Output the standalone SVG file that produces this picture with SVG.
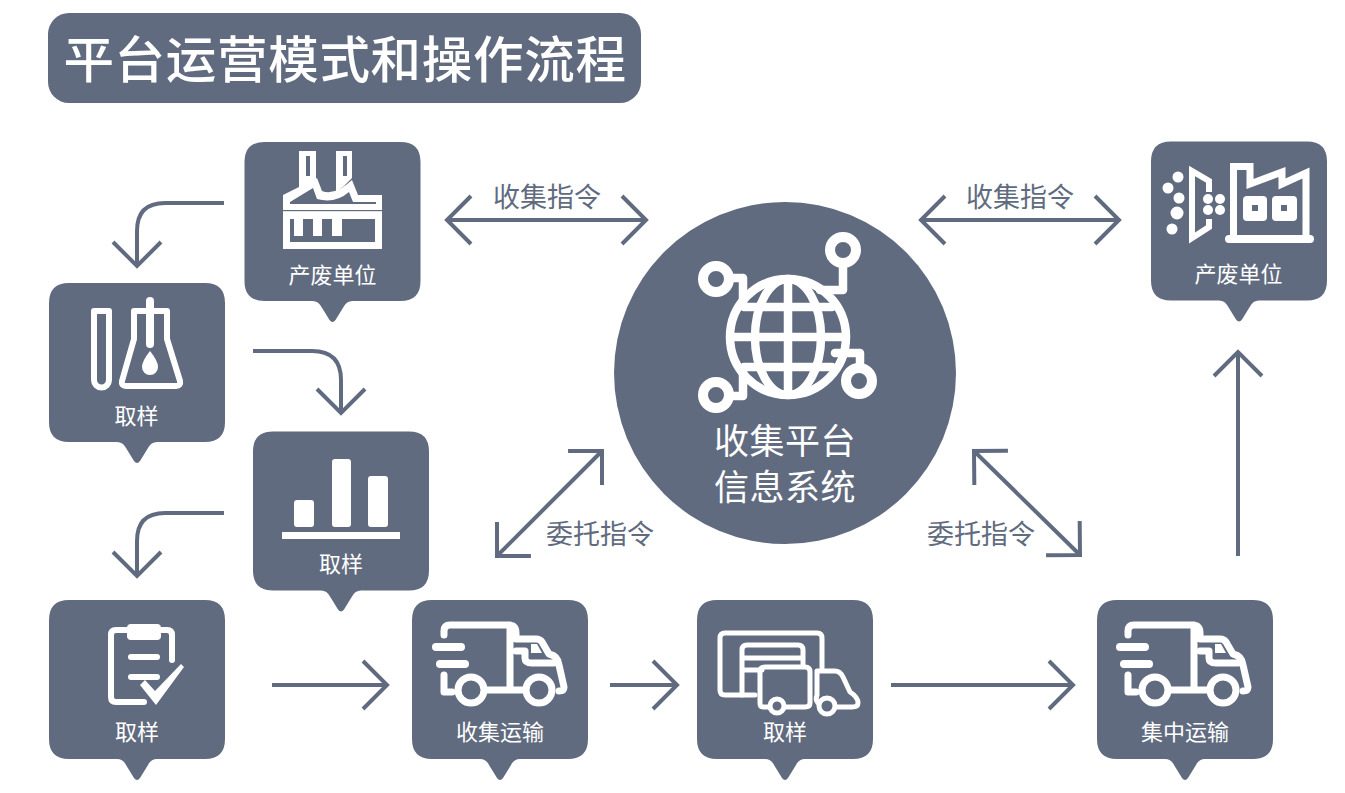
<svg xmlns="http://www.w3.org/2000/svg" width="1345" height="793" viewBox="0 0 1345 793">
<style>
text{font-family:"Noto Sans CJK SC","Noto Sans",sans-serif}
.bg{fill:#616b80}
.lb{fill:#fff;font-size:22px;text-anchor:middle}
.cl{fill:#616b80;font-size:27px;text-anchor:middle}
.cc{fill:#fff;font-size:35px;text-anchor:middle}
.i{fill:none;stroke:#fff;stroke-width:6;stroke-linejoin:round;stroke-linecap:round}
.m{fill:none;stroke:#fff;stroke-width:6;stroke-linejoin:miter;stroke-linecap:butt}
.f{fill:#fff}
.d{fill:#616b80}
.c{fill:none;stroke:#616b80;stroke-width:4}
</style>
<defs>
<marker id="ah" markerUnits="userSpaceOnUse" markerWidth="32" markerHeight="56" refX="28" refY="28" orient="auto-start-reverse" viewBox="0 0 32 56"><path d="M4 4L28 28L4 52" fill="none" stroke="#616b80" stroke-width="4"/></marker>
<path id="bubble" d="M20 0H156Q176 0 176 20V139Q176 159 156 159H108Q102 159 99 165L91 178Q88 182 85 178L77 165Q74 159 68 159H20Q0 159 0 139V20Q0 0 20 0Z"/>
<g id="truck">
<path class="i" style="stroke-width:7" d="M0 10V6Q0 0 6 0H64Q72 0 72 8V14H92Q96 14 98 17L105 29Q114 31 115 40L120 62Q120 66 115 66M66 0V65H42M80 65H66M0 50V67H8"/>
<path class="i" style="stroke-width:7" d="M72 26H81V33Q81 38 88 38H110"/>
<path class="f" d="M87 19H93L98 28H87Z"/>
<rect class="f" x="-12" y="18" width="33" height="8" rx="4"/>
<rect class="f" x="-8" y="35" width="33" height="8" rx="4"/>
<circle cx="27" cy="65" r="13" fill="#616b80" stroke="#fff" stroke-width="7"/>
<circle cx="95" cy="65" r="13" fill="#616b80" stroke="#fff" stroke-width="7"/>
</g>
</defs>
<rect width="1345" height="793" fill="#fff"/>

<g id="title">
<rect class="bg" x="48" y="13" width="593" height="90" rx="21"/>
<text x="345" y="78" fill="#fff" font-size="50.500" font-weight="500" letter-spacing="0.7" text-anchor="middle">平台运营模式和操作流程</text>
</g>

<g id="connectors">
<path class="c" marker-end="url(#ah)" d="M224 203H165Q137 203 137 231V266"/>
<path class="c" marker-end="url(#ah)" d="M253 351H312Q341 351 341 380V413"/>
<path class="c" marker-end="url(#ah)" d="M224 513H165Q137 513 137 541V576"/>
<path class="c" marker-end="url(#ah)" d="M272 685H387"/>
<path class="c" marker-end="url(#ah)" d="M610 685H677"/>
<path class="c" marker-end="url(#ah)" d="M891 685H1073"/>
<path class="c" marker-end="url(#ah)" d="M1238 556V352"/>
<path class="c" marker-start="url(#ah)" marker-end="url(#ah)" d="M447 220H646"/>
<path class="c" marker-start="url(#ah)" marker-end="url(#ah)" d="M921 220H1119"/>
<path class="c" marker-start="url(#ah)" marker-end="url(#ah)" d="M497 556L602 451"/>
<path class="c" marker-start="url(#ah)" marker-end="url(#ah)" d="M974 451L1080 555"/>
<text class="cl" x="547" y="207">收集指令</text>
<text class="cl" x="1020" y="207">收集指令</text>
<text class="cl" x="600" y="544">委托指令</text>
<text class="cl" x="981" y="544">委托指令</text>
</g>

<g id="node-platform">
<circle class="bg" cx="785" cy="373" r="171"/>
<g class="i" style="stroke-width:8.500">
<circle cx="788" cy="337" r="58"/>
<ellipse cx="788" cy="337" rx="33" ry="58"/>
<path d="M788 280V394M731 337H845M744 307H832M744 367H832"/>
<path d="M843 268V290H820M734 278H743V303M734 396H743V371M860 363V353H835"/>
</g>
<g fill="none" stroke="#fff" stroke-width="10">
<circle cx="843" cy="250" r="13"/>
<circle cx="716" cy="279" r="13"/>
<circle cx="716" cy="395" r="13"/>
<circle cx="859" cy="381" r="13"/>
</g>
<text class="cc" x="785" y="454" letter-spacing="0.5">收集平台</text>
<text class="cc" x="785" y="500" letter-spacing="0.5">信息系统</text>
</g>

<g id="node-source1">
<use href="#bubble" class="bg" x="244.500" y="142"/>
<path class="f" d="M299 151H316V180L299 189ZM336 151H352V178L344 186L336 192Z"/>
<rect class="d" x="306" y="156" width="4" height="20"/>
<rect class="d" x="343" y="156" width="4" height="20"/>
<path class="f" d="M283 219V195L317 178L322 191Q335 196 352 180L358 195H382V219Z"/>
<path class="d" d="M290 202L313 188L317 199Q335 204 349 192L353 202H376V204H290Z"/>
<rect class="d" x="283" y="210" width="99" height="1.200"/>
<path class="m" style="stroke-width:7" d="M286.500 216V245.500H378.500V216"/>
<rect class="f" x="294" y="216" width="9" height="20"/>
<rect class="f" x="313" y="216" width="9" height="20"/>
<rect class="f" x="332" y="216" width="10" height="20"/>
<text class="lb" x="332.500" y="283">产废单位</text>
</g>

<g id="node-sample1">
<use href="#bubble" class="bg" x="49" y="283"/>
<path class="i" d="M94 311H109V380A7.500 7.500 0 0 1 94 380Z"/>
<path class="i" d="M134 311V339L122 381Q121 386 126 386H176Q181 386 180 381L167 339V311Z"/>
<path class="i" style="stroke-width:8" d="M150 301V344"/>
<path class="f" d="M150 351Q158 361 158 367A8 8 0 0 1 142 367Q142 361 150 351Z"/>
<text class="lb" x="136.500" y="424">取样</text>
</g>

<g id="node-sample2">
<use href="#bubble" class="bg" x="253" y="431.500"/>
<rect class="f" x="294" y="500" width="20" height="27" rx="3"/>
<rect class="f" x="332" y="459" width="19" height="68" rx="3"/>
<rect class="f" x="368" y="476" width="20" height="51" rx="3"/>
<rect class="f" x="282" y="532" width="118" height="7"/>
<text class="lb" x="341" y="572">取样</text>
</g>

<g id="node-sample3">
<use href="#bubble" class="bg" x="49" y="600"/>
<path class="i" d="M172 660V635Q172 630 167 630H116Q111 630 111 635V697Q111 702 116 702H144"/>
<rect class="f" x="127" y="624" width="34" height="16" rx="4"/>
<rect class="f" x="128" y="654" width="32" height="6" rx="3"/>
<rect class="f" x="128" y="674" width="32" height="6" rx="3"/>
<path class="f" d="M140 685L145 680L155 691L181 664L184 667L156 705Z"/>
<text class="lb" x="137" y="740">取样</text>
</g>

<g id="node-transport1">
<use href="#bubble" class="bg" x="412" y="600"/>
<use href="#truck" x="444" y="625"/>
<text class="lb" x="500" y="740">收集运输</text>
</g>

<g id="node-sample4">
<use href="#bubble" class="bg" x="697" y="600"/>
<path class="i" style="stroke-width:5" d="M755 695H725Q720 695 720 690V638Q720 633 725 633H817Q822 633 822 638V668"/>
<path class="i" style="stroke-width:5" d="M742 695V650Q742 645 747 645H798Q803 645 803 650V665M742 658H803M742 670H762"/>
<path class="i" style="stroke-width:5" d="M768 707H763Q760 707 760 703V672Q760 667 765 667H805Q810 667 810 672V703Q810 707 805 707H786"/>
<path class="i" style="stroke-width:5" d="M817 695V671H835Q840 671 843 677L850 692Q858 697 858 703Q858 707 852 707H836M817 695Q815 700 818 703"/>
<circle cx="777" cy="706" r="7" fill="#616b80" stroke="#fff" stroke-width="5"/>
<circle cx="827" cy="706" r="8" fill="#616b80" stroke="#fff" stroke-width="5"/>
<text class="lb" x="785" y="740">取样</text>
</g>

<g id="node-transport2">
<use href="#bubble" class="bg" x="1097" y="600"/>
<use href="#truck" x="1128" y="625"/>
<text class="lb" x="1185" y="740">集中运输</text>
</g>

<g id="node-source2">
<use href="#bubble" class="bg" x="1151" y="141.500"/>
<path class="m" d="M1209 192V181L1192 171V238L1209 227V219"/>
<g class="f">
<circle cx="1178" cy="177" r="5.500"/><circle cx="1168" cy="188" r="5.500"/><circle cx="1179" cy="198" r="5.500"/><circle cx="1177" cy="213" r="6.500"/><circle cx="1172" cy="229" r="5.500"/>
<circle cx="1208" cy="199" r="5"/><circle cx="1220" cy="199" r="5"/><circle cx="1208" cy="210" r="5"/><circle cx="1220" cy="210" r="5"/>
</g>
<path class="i" style="stroke-width:8" d="M1229 239H1310"/>
<path class="m" style="stroke-width:7" d="M1233.500 240V166.500H1250V184L1282 172V184L1306 173V240"/>
<rect class="f" x="1243" y="196" width="24" height="25" rx="4"/>
<rect class="f" x="1272" y="196" width="25" height="25" rx="4"/>
<rect class="d" x="1252" y="205" width="6" height="6"/>
<rect class="d" x="1281" y="205" width="6" height="6"/>
<text class="lb" x="1238.500" y="282">产废单位</text>
</g>
</svg>
